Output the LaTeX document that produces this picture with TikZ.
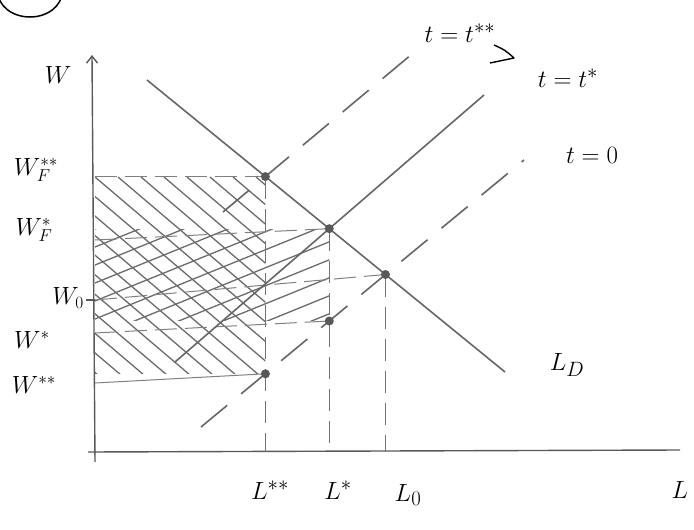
\documentclass[tikz,border=0pt]{standalone}
\usetikzlibrary{arrows.meta}
\begin{document}
\begin{tikzpicture}[x=1pt,y=-1pt,
  axis/.style={line width=1.4pt, draw=black!65},
  curve/.style={line width=1.6pt, draw=black!60},
  dashcurve/.style={curve, dash pattern=on 34pt off 18pt},
  guide/.style={line width=1pt, draw=black!50, dash pattern=on 22pt off 8pt},
  vguide/.style={line width=1pt, draw=black!55, dash pattern=on 22pt off 10pt},
  hatch/.style={line width=1.3pt, draw=black!58},
  dot/.style={circle, fill=black!65, inner sep=0pt, minimum size=9pt},
  lbl/.style={font=\fontsize{30}{32}\selectfont, text=black, inner sep=1pt},
  slbl/.style={font=\fontsize{25}{27}\selectfont, text=black, inner sep=1pt}
]
\useasboundingbox (0,0) rectangle (694,530);

% partial circled mark at the top edge
\draw[line width=1.5pt] (30,-8) ellipse (32 and 25);

% axes
\coordinate (O) at (95,452);
\coordinate (Ytop) at (92,55);
\coordinate (Xend) at (680,450);
\draw[axis, -{Straight Barb[length=7pt,width=11pt]}] (95,462) -- (Ytop);
\draw[axis] (88,452) -- (Xend);

% curve end points
\coordinate (D1) at (147,80);   \coordinate (D2) at (505,372);
\coordinate (Tssa) at (223,212); \coordinate (Tssb) at (412,54);
\coordinate (Tsa) at (175,362); \coordinate (Tsb) at (484,95);
\coordinate (T0a) at (201,427); \coordinate (T0b) at (524,160);

% equilibrium points
\coordinate (EFss) at (intersection of D1--D2 and Tssa--Tssb);
\coordinate (EFs) at (intersection of D1--D2 and Tsa--Tsb);
\coordinate (E0) at (intersection of D1--D2 and T0a--T0b);
\coordinate (LssAx) at (EFss |- O);
\coordinate (LsAx) at (EFs |- O);
\coordinate (L0Ax) at (E0 |- O);
\coordinate (EWs) at (intersection of EFs--LsAx and T0a--T0b);
\coordinate (EWss) at (intersection of EFss--LssAx and T0a--T0b);

% axis points for wage guides
\coordinate (WFssAx) at (O |- EFss);
\coordinate (WFsAx) at (95,240);
\coordinate (W0Ax) at (95,300);
\coordinate (WsAx) at (95,333);
\coordinate (WssAx) at (95,383);

% hatching: t** revenue rectangle (descending strokes)
\begin{scope}
  \clip (WFssAx) rectangle (EWss);
  \foreach \k in {-11,...,8}
    \draw[hatch] ({95+\k*23},177) -- ++(320,272);
\end{scope}
% hatching: t* revenue rectangle (ascending strokes)
\begin{scope}
  \clip (95,229) rectangle (EWs);
  \foreach \k in {0,...,11}
    \draw[hatch] (95,{229+\k*18}) -- ++(320,-130);
\end{scope}

% wage guides
\draw[guide] (WFssAx) -- (EFss);
\draw[guide] (WFsAx) -- (EFs);
\draw[guide] (W0Ax) -- (E0);
\draw[guide] (WsAx) -- (EWs);
\draw[line width=1pt, draw=black!50] (WssAx) -- (EWss);
\draw[axis, line width=1.2pt] (86,300) -- (W0Ax);

% quantity guides
\draw[vguide] (EFss) -- (LssAx);
\draw[vguide] (EFs) -- (LsAx);
\draw[vguide] (E0) -- (L0Ax);

% curves
\draw[curve] (D1) -- (D2);
\draw[curve] (Tsa) -- (Tsb);
\draw[dashcurve] (Tssa) -- (Tssb);
\draw[dashcurve] (T0a) -- (T0b);

% dots
\foreach \p in {EFss,EFs,E0,EWs,EWss}
  \node[dot] (d\p) at (\p) {};

% labels
\node[lbl] (lW) at (58,75) {$W$};
\node[lbl] (lL) at (680,490) {$L$};
\node[lbl] (lLss) at (270,490) {$L^{**}$};
\node[lbl] (lLs) at (338,490) {$L^{*}$};
\node[lbl] (lL0) at (408,495) {$L_0$};
\node[slbl] (lWFss) at (36,170) {$W_F^{**}$};
\node[slbl] (lWFs) at (34,230) {$W_F^{*}$};
\node[slbl, anchor=east] (lW0) at (85,298) {$W_0$};
\node[slbl] (lWs) at (32,340) {$W^{*}$};
\node[slbl] (lWss) at (34,385) {$W^{**}$};
\node[lbl] (ltss) at (460,33) {$t = t^{**}$};
\node[lbl] (lts) at (568,78) {$t = t^{*}$};
\node[lbl] (lt0) at (592,155) {$t = 0$};
\node[lbl] (lLD) at (567,365) {$L_D$};
\draw[line width=1.4pt, line join=round] (494,45) .. controls (505,50) .. (514,58) -- (490,63);
\end{tikzpicture}
\end{document}
